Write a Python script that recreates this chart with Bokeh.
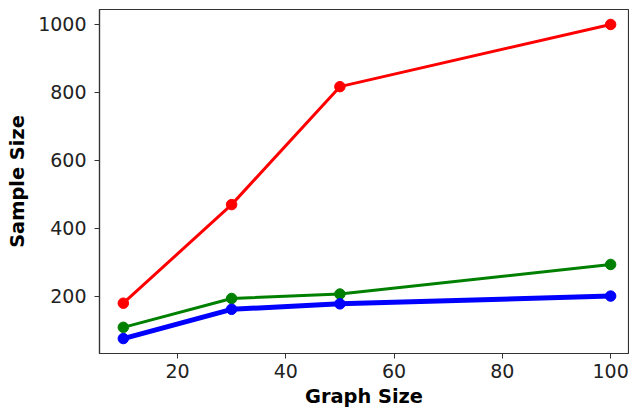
from bokeh.plotting import figure
from bokeh.models import Range1d, FixedTicker
from bokeh.embed import file_html
from bokeh.resources import INLINE

graph_size = [10, 30, 50, 100]
red_series = [180, 470, 817, 1000]
green_series = [109, 194, 207, 294]
blue_series = [76, 162, 178, 201]
x_ticks = [20, 40, 60, 80, 100]
y_ticks = [200, 400, 600, 800, 1000]

p = figure(width=629, height=412, output_backend="svg", toolbar_location=None,
           x_range=Range1d(5.6, 103.3), y_range=Range1d(32, 1044),
           min_border_left=99, min_border_right=1, min_border_top=9, min_border_bottom=59)

p.grid.visible = False
p.outline_line_color = "#333333"
p.outline_line_width = 1.2
p.background_fill_color = "white"
p.border_fill_color = "white"

series = [(red_series, "#ff0000", 3), (green_series, "#008000", 3), (blue_series, "#0000ff", 5)]
for ys, color, lw in series:
    p.line(graph_size, ys, line_color=color, line_width=lw)
    p.scatter(graph_size, ys, size=10.5, fill_color=color, line_color=color)

p.xaxis.ticker = FixedTicker(ticks=x_ticks)
p.yaxis.ticker = FixedTicker(ticks=y_ticks)
for ax in (p.xaxis, p.yaxis):
    ax.minor_tick_line_color = None
    ax.major_tick_out = 5
    ax.major_tick_in = 0
    ax.major_tick_line_color = "#333333"
    ax.axis_line_color = "#333333"
    ax.axis_line_width = 1.2
    ax.major_label_text_font = "DejaVu Sans"
    ax.major_label_text_font_size = "19px"
    ax.major_label_text_color = "#222222"
    ax.axis_label_text_font = "DejaVu Sans"
    ax.axis_label_text_font_size = "19.4px"
    ax.axis_label_text_font_style = "bold"
    ax.axis_label_text_color = "black"

p.xaxis.axis_label = "Graph Size"
p.yaxis.axis_label = "Sample Size"
p.xaxis.major_label_standoff = 5
p.yaxis.major_label_standoff = 8
p.xaxis.axis_label_standoff = 4
p.yaxis.axis_label_standoff = 6

open("out.html", "w").write(file_html(p, INLINE))
